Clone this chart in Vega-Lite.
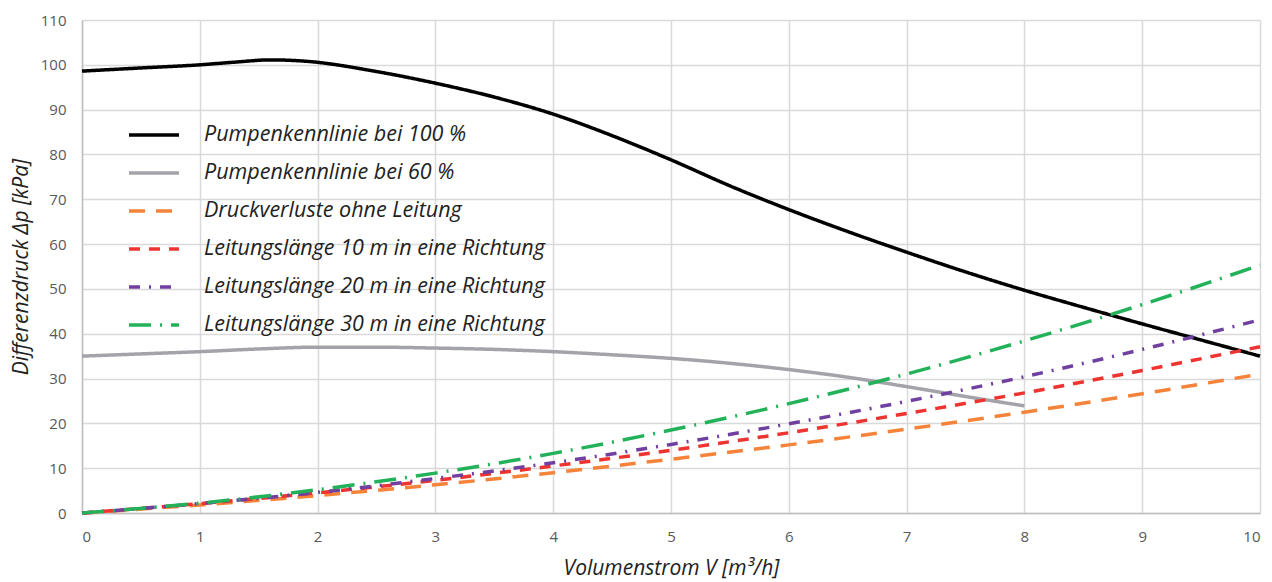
{
  "$schema": "https://vega.github.io/schema/vega-lite/v6.json",
  "width": 1178,
  "height": 493,
  "autosize": "none",
  "padding": {"left": 82, "top": 20, "right": 12, "bottom": 69},
  "background": "white",
  "config": {"font": "Open Sans", "view": {"stroke": null}},
  "data": {"values": [
    {"s": "Pumpenkennlinie bei 100 %", "x": 0, "y": 98.6},
    {"s": "Pumpenkennlinie bei 100 %", "x": 0.5, "y": 99.3},
    {"s": "Pumpenkennlinie bei 100 %", "x": 1, "y": 100},
    {"s": "Pumpenkennlinie bei 100 %", "x": 1.3, "y": 100.6},
    {"s": "Pumpenkennlinie bei 100 %", "x": 1.6, "y": 101.1},
    {"s": "Pumpenkennlinie bei 100 %", "x": 1.9, "y": 100.8},
    {"s": "Pumpenkennlinie bei 100 %", "x": 2.5, "y": 98.5},
    {"s": "Pumpenkennlinie bei 100 %", "x": 3, "y": 95.9},
    {"s": "Pumpenkennlinie bei 100 %", "x": 3.5, "y": 92.8},
    {"s": "Pumpenkennlinie bei 100 %", "x": 4, "y": 89},
    {"s": "Pumpenkennlinie bei 100 %", "x": 4.5, "y": 84.2},
    {"s": "Pumpenkennlinie bei 100 %", "x": 5, "y": 78.8},
    {"s": "Pumpenkennlinie bei 100 %", "x": 5.5, "y": 73},
    {"s": "Pumpenkennlinie bei 100 %", "x": 6, "y": 67.7},
    {"s": "Pumpenkennlinie bei 100 %", "x": 6.5, "y": 62.8},
    {"s": "Pumpenkennlinie bei 100 %", "x": 7, "y": 58.2},
    {"s": "Pumpenkennlinie bei 100 %", "x": 7.5, "y": 53.8},
    {"s": "Pumpenkennlinie bei 100 %", "x": 8, "y": 49.7},
    {"s": "Pumpenkennlinie bei 100 %", "x": 8.5, "y": 45.9},
    {"s": "Pumpenkennlinie bei 100 %", "x": 9, "y": 42.2},
    {"s": "Pumpenkennlinie bei 100 %", "x": 9.5, "y": 38.6},
    {"s": "Pumpenkennlinie bei 100 %", "x": 10, "y": 35},
    {"s": "Pumpenkennlinie bei 60 %", "x": 0, "y": 35},
    {"s": "Pumpenkennlinie bei 60 %", "x": 0.5, "y": 35.5},
    {"s": "Pumpenkennlinie bei 60 %", "x": 1, "y": 36},
    {"s": "Pumpenkennlinie bei 60 %", "x": 1.5, "y": 36.6},
    {"s": "Pumpenkennlinie bei 60 %", "x": 2, "y": 37},
    {"s": "Pumpenkennlinie bei 60 %", "x": 2.5, "y": 37},
    {"s": "Pumpenkennlinie bei 60 %", "x": 3, "y": 36.8},
    {"s": "Pumpenkennlinie bei 60 %", "x": 3.5, "y": 36.5},
    {"s": "Pumpenkennlinie bei 60 %", "x": 4, "y": 36},
    {"s": "Pumpenkennlinie bei 60 %", "x": 4.5, "y": 35.3},
    {"s": "Pumpenkennlinie bei 60 %", "x": 5, "y": 34.5},
    {"s": "Pumpenkennlinie bei 60 %", "x": 5.5, "y": 33.4},
    {"s": "Pumpenkennlinie bei 60 %", "x": 6, "y": 32},
    {"s": "Pumpenkennlinie bei 60 %", "x": 6.5, "y": 30.3},
    {"s": "Pumpenkennlinie bei 60 %", "x": 7, "y": 28.2},
    {"s": "Pumpenkennlinie bei 60 %", "x": 7.5, "y": 26},
    {"s": "Pumpenkennlinie bei 60 %", "x": 8, "y": 23.9},
    {"s": "Druckverluste ohne Leitung", "x": 0, "y": 0},
    {"s": "Druckverluste ohne Leitung", "x": 1, "y": 1.8},
    {"s": "Druckverluste ohne Leitung", "x": 2, "y": 3.9},
    {"s": "Druckverluste ohne Leitung", "x": 3, "y": 6.3},
    {"s": "Druckverluste ohne Leitung", "x": 4, "y": 9.0},
    {"s": "Druckverluste ohne Leitung", "x": 5, "y": 12.0},
    {"s": "Druckverluste ohne Leitung", "x": 6, "y": 15.2},
    {"s": "Druckverluste ohne Leitung", "x": 7, "y": 18.7},
    {"s": "Druckverluste ohne Leitung", "x": 8, "y": 22.5},
    {"s": "Druckverluste ohne Leitung", "x": 9, "y": 26.6},
    {"s": "Druckverluste ohne Leitung", "x": 10, "y": 31},
    {"s": "Leitungslänge 10 m in eine Richtung", "x": 0, "y": 0},
    {"s": "Leitungslänge 10 m in eine Richtung", "x": 1, "y": 2.1},
    {"s": "Leitungslänge 10 m in eine Richtung", "x": 2, "y": 4.5},
    {"s": "Leitungslänge 10 m in eine Richtung", "x": 3, "y": 7.3},
    {"s": "Leitungslänge 10 m in eine Richtung", "x": 4, "y": 10.5},
    {"s": "Leitungslänge 10 m in eine Richtung", "x": 5, "y": 14.0},
    {"s": "Leitungslänge 10 m in eine Richtung", "x": 6, "y": 17.9},
    {"s": "Leitungslänge 10 m in eine Richtung", "x": 7, "y": 22.2},
    {"s": "Leitungslänge 10 m in eine Richtung", "x": 8, "y": 26.8},
    {"s": "Leitungslänge 10 m in eine Richtung", "x": 9, "y": 31.8},
    {"s": "Leitungslänge 10 m in eine Richtung", "x": 10, "y": 37.1},
    {"s": "Leitungslänge 20 m in eine Richtung", "x": 0, "y": 0},
    {"s": "Leitungslänge 20 m in eine Richtung", "x": 1, "y": 2.1},
    {"s": "Leitungslänge 20 m in eine Richtung", "x": 2, "y": 4.6},
    {"s": "Leitungslänge 20 m in eine Richtung", "x": 3, "y": 7.7},
    {"s": "Leitungslänge 20 m in eine Richtung", "x": 4, "y": 11.2},
    {"s": "Leitungslänge 20 m in eine Richtung", "x": 5, "y": 15.3},
    {"s": "Leitungslänge 20 m in eine Richtung", "x": 6, "y": 19.9},
    {"s": "Leitungslänge 20 m in eine Richtung", "x": 7, "y": 24.9},
    {"s": "Leitungslänge 20 m in eine Richtung", "x": 8, "y": 30.4},
    {"s": "Leitungslänge 20 m in eine Richtung", "x": 9, "y": 36.5},
    {"s": "Leitungslänge 20 m in eine Richtung", "x": 10, "y": 43.1},
    {"s": "Leitungslänge 30 m in eine Richtung", "x": 0, "y": 0},
    {"s": "Leitungslänge 30 m in eine Richtung", "x": 1, "y": 2.2},
    {"s": "Leitungslänge 30 m in eine Richtung", "x": 2, "y": 5.2},
    {"s": "Leitungslänge 30 m in eine Richtung", "x": 3, "y": 8.9},
    {"s": "Leitungslänge 30 m in eine Richtung", "x": 4, "y": 13.3},
    {"s": "Leitungslänge 30 m in eine Richtung", "x": 5, "y": 18.5},
    {"s": "Leitungslänge 30 m in eine Richtung", "x": 6, "y": 24.4},
    {"s": "Leitungslänge 30 m in eine Richtung", "x": 7, "y": 31.0},
    {"s": "Leitungslänge 30 m in eine Richtung", "x": 8, "y": 38.4},
    {"s": "Leitungslänge 30 m in eine Richtung", "x": 9, "y": 46.5},
    {"s": "Leitungslänge 30 m in eine Richtung", "x": 10, "y": 55.3}
  ]},
  "mark": {"type": "line", "interpolate": "monotone", "strokeCap": "butt"},
  "encoding": {
    "x": {
      "field": "x", "type": "quantitative",
      "scale": {"domain": [0, 10], "nice": false},
      "axis": {
        "title": "Volumenstrom V [m³/h]",
        "values": [0,1,2,3,4,5,6,7,8,9,10],
        "grid": true, "gridColor": "#d9d9d9", "gridWidth": 1.5,
        "domainColor": "#bfbfbf", "domainWidth": 1.5,
        "ticks": false, "labelPadding": 16,
        "labelColor": "#595959", "labelFontSize": 15,
        "titleFontSize": 21, "titleFontStyle": "italic", "titleFontWeight": "normal",
        "titleColor": "#222222", "titlePadding": 13
      }
    },
    "y": {
      "field": "y", "type": "quantitative",
      "scale": {"domain": [0, 110], "nice": false},
      "axis": {
        "title": "Differenzdruck Δp [kPa]",
        "values": [0,10,20,30,40,50,60,70,80,90,100,110],
        "grid": true, "gridColor": "#d9d9d9", "gridWidth": 1.5,
        "domainColor": "#bfbfbf", "domainWidth": 1.5,
        "ticks": false, "labelPadding": 16,
        "labelColor": "#595959", "labelFontSize": 15,
        "titleFontSize": 21, "titleFontStyle": "italic", "titleFontWeight": "normal",
        "titleColor": "#222222", "titlePadding": 9
      }
    },
    "color": {
      "field": "s", "type": "nominal",
      "scale": {
        "domain": ["Pumpenkennlinie bei 100 %", "Pumpenkennlinie bei 60 %", "Druckverluste ohne Leitung", "Leitungslänge 10 m in eine Richtung", "Leitungslänge 20 m in eine Richtung", "Leitungslänge 30 m in eine Richtung"],
        "range": ["#000000", "#a3a4a9", "#f5843a", "#ee3430", "#7040a0", "#23b25a"]
      },
      "legend": {
        "title": null,
        "orient": "none", "legendX": 45, "legendY": 88,
        "symbolType": "stroke", "symbolSize": 2500, "symbolStrokeWidth": 3,
        "labelFontSize": 21.5, "labelFontStyle": "italic", "labelColor": "#222222",
        "labelOffset": 23, "rowPadding": 0, "labelLimit": 600
      }
    },
    "strokeDash": {
      "field": "s", "type": "nominal",
      "scale": {
        "domain": ["Pumpenkennlinie bei 100 %", "Pumpenkennlinie bei 60 %", "Druckverluste ohne Leitung", "Leitungslänge 10 m in eine Richtung", "Leitungslänge 20 m in eine Richtung", "Leitungslänge 30 m in eine Richtung"],
        "range": [[1, 0], [1, 0], [16, 11], [11, 9], [11, 9, 2, 9], [22, 9, 2, 9]]
      }
    },
    "strokeWidth": {
      "field": "s", "type": "nominal",
      "scale": {
        "domain": ["Pumpenkennlinie bei 100 %", "Pumpenkennlinie bei 60 %", "Druckverluste ohne Leitung", "Leitungslänge 10 m in eine Richtung", "Leitungslänge 20 m in eine Richtung", "Leitungslänge 30 m in eine Richtung"],
        "range": [3.5, 3.5, 2.5, 2.5, 2.5, 2.5]
      },
      "legend": null
    }
  }
}
